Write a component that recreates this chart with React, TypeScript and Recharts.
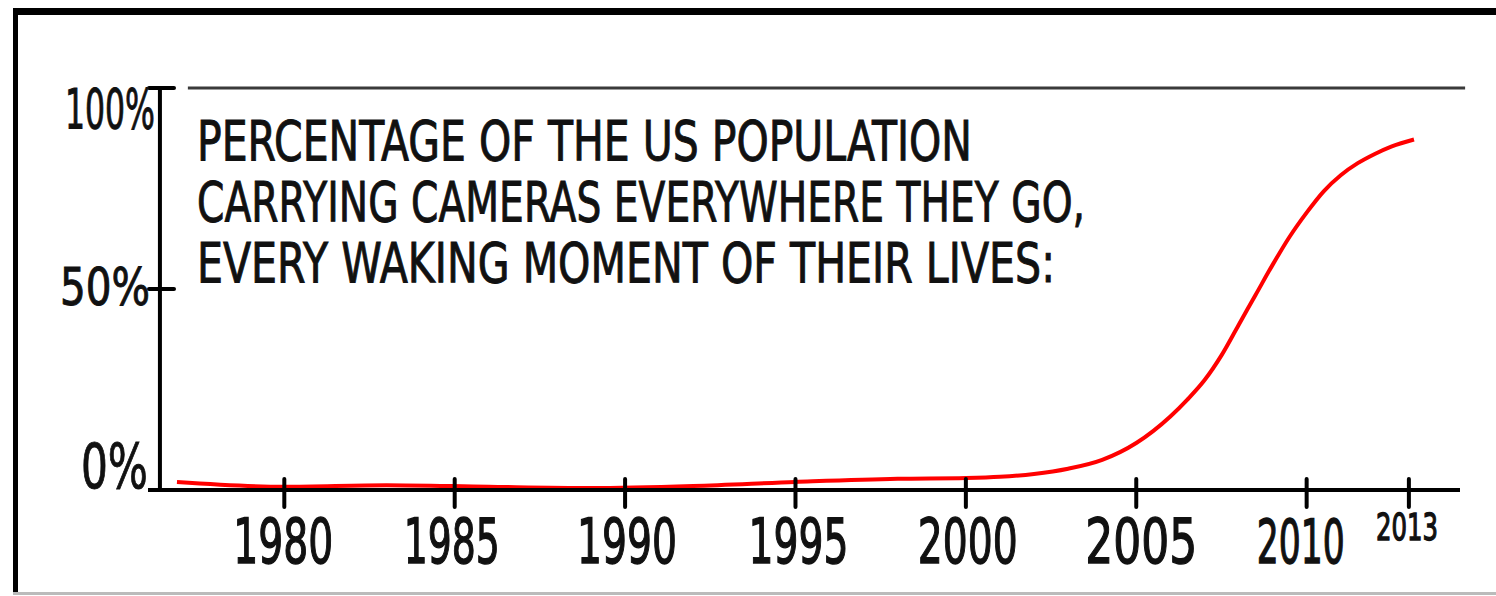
import React from 'react';
import { LineChart, Line, XAxis, YAxis, ReferenceLine } from 'recharts';

const years = [1976.85, 1980, 1983, 1986, 1989, 1992, 1995, 1998, 2000, 2001, 2002, 2003, 2004, 2005, 2006, 2006.5, 2007, 2007.5, 2008, 2008.5, 2009, 2009.5, 2010, 2010.5, 2011, 2011.5, 2012, 2012.5, 2013.15];
const percentages = [2, 0.8, 1.2, 0.8, 0.5, 1, 2, 2.8, 3, 3.3, 4, 5.3, 7.5, 11.7, 18.3, 22.5, 27.3, 33.5, 41, 48.5, 56, 63, 69, 74.3, 78.3, 81.3, 83.6, 85.5, 87.2];
const xTicks = [1980, 1985, 1990, 1995, 2000, 2005, 2010, 2013];
const yTicks = [0, 50, 100];
const yTickLabels = ['0%', '50%', '100%'];
const titleLines = [
  'PERCENTAGE OF THE US POPULATION',
  'CARRYING CAMERAS EVERYWHERE THEY GO,',
  'EVERY WAKING MOMENT OF THEIR LIVES:',
];

const data = years.map((year, i) => ({ year, value: percentages[i] }));

const FONT = '"DejaVu Sans", "Liberation Sans", sans-serif';
const INK = '#111';
const DIGIT_EM = 0.636;

const xLabelStyle: Record<number, { dx: number; len: number; size: number }> = {
  1980: { dx: -1, len: 100, size: 62 },
  1985: { dx: -3, len: 96, size: 62 },
  1990: { dx: 2, len: 100, size: 62 },
  1995: { dx: 3, len: 100, size: 62 },
  2000: { dx: 2, len: 100, size: 62 },
  2005: { dx: 5, len: 112, size: 62 },
  2010: { dx: -6, len: 88, size: 60 },
  2013: { dx: -2, len: 62, size: 38 },
};

const XTick = (props: any) => {
  const { x, y, payload } = props;
  const small = payload.value === 2013;
  const st = xLabelStyle[payload.value];
  const label = String(payload.value);
  const sx = st.len / (label.length * DIGIT_EM * st.size);
  const by = small ? y + 50 : y + 73;
  return (
    <g>
      <line x1={x} x2={x} y1={y - 11} y2={y + 17} stroke="#000" strokeWidth={4} strokeLinecap="round" />
      <text
        transform={`translate(${x + st.dx},${by}) scale(${sx},1)`}
        x={0}
        y={0}
        textAnchor="middle"
        fontFamily={FONT}
        fontSize={st.size}
        fill={INK}
        stroke={INK}
        strokeWidth={1.4}
      >
        {label}
      </text>
    </g>
  );
};

const yCfg: Record<number, { dx: number; dy: number; size: number; len: number; tick: boolean }> = {
  100: { dx: 7, dy: 40, size: 55, len: 90, tick: true },
  50: { dx: 2, dy: 16, size: 51, len: 90, tick: true },
  0: { dx: 0, dy: -2, size: 62, len: 67, tick: false },
};

const YTick = (props: any) => {
  const { x, y, payload } = props;
  const v = payload.value as number;
  const c = yCfg[v];
  const label = yTickLabels[yTicks.indexOf(v)];
  return (
    <g>
      {c.tick && (
        <line x1={x + 1} x2={x + 26} y1={y} y2={y} stroke="#000" strokeWidth={4} strokeLinecap="round" />
      )}
      <text
        x={x + c.dx}
        y={y + c.dy}
        textAnchor="end"
        fontFamily={FONT}
        fontSize={c.size}
        textLength={c.len}
        lengthAdjust="spacingAndGlyphs"
        fill={INK}
        stroke={INK}
        strokeWidth={1}
      >
        {label}
      </text>
    </g>
  );
};

const titleLayout = [
  { y: 160, len: 775, size: 55 },
  { y: 221, len: 888, size: 55 },
  { y: 282, len: 858, size: 55 },
];

export default function App() {
  return (
    <div style={{ position: 'absolute', left: 0, top: 0, width: 1496, height: 596, background: '#fff', overflow: 'hidden' }}>
      <div style={{ position: 'absolute', left: 0, top: 0 }}>
        <LineChart width={1496} height={596} data={data} margin={{ top: 88, right: 36, bottom: 76, left: 0 }}>
          <XAxis
            dataKey="year"
            type="number"
            domain={[1976, 2014.5]}
            ticks={xTicks}
            allowDataOverflow
            height={30}
            axisLine={{ stroke: '#000', strokeWidth: 4 }}
            tickLine={false}
            tickSize={0}
            tickMargin={0}
            tick={<XTick />}
            interval={0}
          />
          <YAxis
            type="number"
            domain={[0, 100]}
            ticks={yTicks}
            width={148}
            axisLine={false}
            tickLine={false}
            tickSize={0}
            tickMargin={0}
            tick={<YTick />}
            interval={0}
          />
          <ReferenceLine x={1976.35} stroke="#000" strokeWidth={4} />
          <ReferenceLine
            segment={[{ x: 1977.17, y: 100 }, { x: 2014.65, y: 100 }]}
            stroke="#3a3a3a"
            strokeWidth={3}
            ifOverflow="visible"
          />
          <Line
            type="monotone"
            dataKey="value"
            stroke="#ff0000"
            strokeWidth={4}
            dot={false}
            activeDot={false}
            isAnimationActive={false}
          />
        </LineChart>
      </div>
      <svg width={1496} height={596} style={{ position: 'absolute', left: 0, top: 0, pointerEvents: 'none' }}>
        {titleLines.map((t, i) => (
          <text
            key={i}
            x={197}
            y={titleLayout[i].y}
            fontFamily={FONT}
            fontSize={titleLayout[i].size}
            textLength={titleLayout[i].len}
            lengthAdjust="spacingAndGlyphs"
            fill={INK}
            stroke={INK}
            strokeWidth={1}
          >
            {t}
          </text>
        ))}
      </svg>
      <div style={{ position: 'absolute', left: 13, top: 8, width: 1483, height: 7, background: '#000' }} />
      <div style={{ position: 'absolute', left: 13, top: 8, width: 5, height: 585, background: '#000' }} />
      <div style={{ position: 'absolute', left: 13, top: 592, width: 1483, height: 3, background: '#bbb' }} />
    </div>
  );
}
